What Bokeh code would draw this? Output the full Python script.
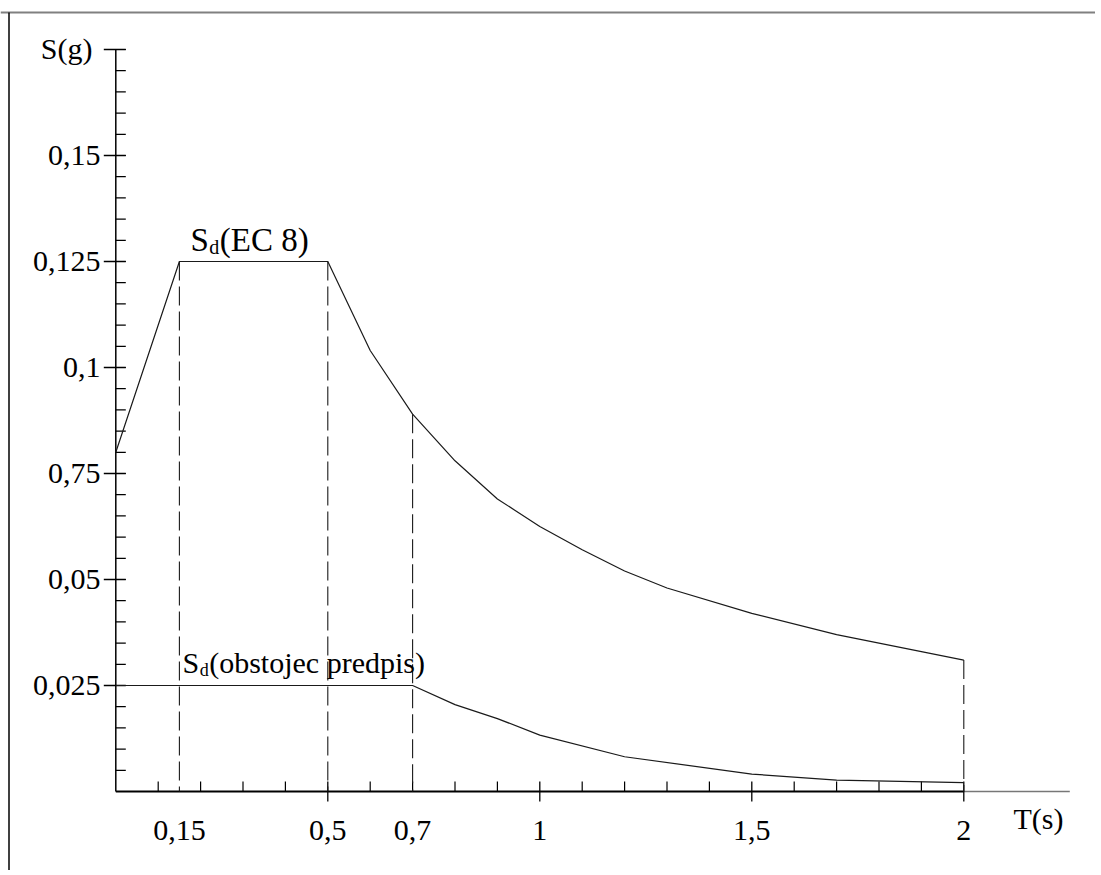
from bokeh.plotting import figure
from bokeh.models import Range1d, ColumnDataSource
from bokeh.core.properties import value
from bokeh.embed import file_html
from bokeh.resources import INLINE

# ---- data ----
t_ec8 = [0.0, 0.15, 0.5, 0.6, 0.7, 0.8, 0.9, 1.0, 1.1, 1.2, 1.3, 1.5, 1.7, 1.9, 2.0]
s_ec8 = [0.080, 0.125, 0.125, 0.104, 0.089, 0.078, 0.069, 0.0625, 0.057, 0.052,
         0.048, 0.042, 0.037, 0.033, 0.031]
t_old = [0.0, 0.7, 0.8, 0.9, 1.0, 1.2, 1.5, 1.7, 2.0]
s_old = [0.025, 0.025, 0.0205, 0.0172, 0.0133, 0.0082, 0.0041, 0.0027, 0.0021]
mark_t = [0.15, 0.5, 0.7, 2.0]
mark_s = [0.125, 0.125, 0.089, 0.031]

x_ticks = [0.15, 0.5, 0.7, 1.0, 1.5, 2.0]
x_tick_labels = ["0,15", "0,5", "0,7", "1", "1,5", "2"]
x_major = [0.5, 1.0, 1.5, 2.0]
x_minor = [0.1, 0.2, 0.3, 0.4, 0.6, 0.7, 0.8, 0.9, 1.1, 1.2, 1.3, 1.4, 1.6, 1.7, 1.8, 1.9]
x_end = 2.25
y_ticks = [0.025, 0.05, 0.075, 0.1, 0.125, 0.15, 0.175]
y_tick_labels = ["0,025", "0,05", "0,75", "0,1", "0,125", "0,15", ""]
y_minor = [round(0.005 * i, 3) for i in range(1, 36)]
y_end = 0.175
x_title = "T(s)"
y_title = "S(g)"

# ---- layout (pixel scale of the reference) ----
W, H = 1095, 870
X0, KX = 115.3, 424.0      # pixel of T=0, pixels per second
Y0, KY = 791.0, 4240.0     # pixel of S=0, pixels per g
FIX = 0.36                 # baseline correction (em) for the svg text placement

def px_x(px):
    return (px - X0) / KX

def px_y(py):
    return (Y0 - py) / KY

FONT = "Liberation Serif"
INK = "#1a1a1a"

p = figure(width=W, height=H, x_range=Range1d(px_x(0), px_x(W)),
           y_range=Range1d(px_y(H), px_y(0)),
           x_axis_type=None, y_axis_type=None,
           output_backend="svg", toolbar_location=None, min_border=0)
p.xgrid.visible = False
p.ygrid.visible = False
p.outline_line_color = None
p.background_fill_color = "white"
p.border_fill_color = "white"

# image border (top, left)
p.segment(x0=[px_x(0)], y0=[px_y(12)], x1=[px_x(W)], y1=[px_y(12)],
          line_color="#808080", line_width=2)
p.segment(x0=[px_x(8.5)], y0=[px_y(12)], x1=[px_x(8.5)], y1=[px_y(H)],
          line_color="black", line_width=1.5)

# ---- axes drawn through the data scales ----
p.segment(x0=[0], y0=[0], x1=[0], y1=[y_end], line_color="black", line_width=1.5)
p.segment(x0=[-12 / KX] * len(y_ticks), y0=y_ticks, x1=[10 / KX] * len(y_ticks), y1=y_ticks,
          line_color="black", line_width=1.3)
p.segment(x0=[0] * len(y_minor), y0=y_minor, x1=[10 / KX] * len(y_minor), y1=y_minor,
          line_color="black", line_width=1.2)
p.segment(x0=[0], y0=[0], x1=[x_major[-1]], y1=[0], line_color="black", line_width=2)
p.segment(x0=[x_major[-1]], y0=[0], x1=[x_end], y1=[0], line_color="#777777", line_width=1.3)
p.segment(x0=x_minor, y0=[0] * len(x_minor), x1=x_minor, y1=[10 / KY] * len(x_minor),
          line_color="black", line_width=1.2)
p.segment(x0=x_major, y0=[-10 / KY] * len(x_major), x1=x_major, y1=[10 / KY] * len(x_major),
          line_color="black", line_width=1.3)

def shift(size):
    return FIX * size / KY

# tick labels
ylab = ColumnDataSource(dict(x=[px_x(100)] * len(y_ticks),
                             y=[v - 11 / KY + shift(30) for v in y_ticks], text=y_tick_labels))
p.text(x="x", y="y", text="text", source=ylab, text_font=value(FONT),
       text_font_size=value("30px"), text_color="black",
       text_align="right", text_baseline="alphabetic")
xlab = ColumnDataSource(dict(x=x_ticks, y=[px_y(841) + shift(30)] * len(x_ticks),
                             text=x_tick_labels))
p.text(x="x", y="y", text="text", source=xlab, text_font=value(FONT),
       text_font_size=value("30px"), text_color="black",
       text_align="center", text_baseline="alphabetic")

def txt(x_px, base_px, s, size, align="left"):
    p.text(x=[px_x(x_px)], y=[px_y(base_px) + shift(size)], text=[s], text_font=value(FONT),
           text_font_size=value(f"{size}px"), text_color="black",
           text_align=align, text_baseline="alphabetic")

# axis titles
txt(92, 59, y_title, 30, "right")
txt(1063, 829, x_title, 30, "right")

# ---- dashed marker lines ----
p.segment(x0=mark_t, y0=mark_s, x1=mark_t, y1=[0] * len(mark_t),
          line_color=INK, line_width=1.1, line_dash="19 6")

# ---- spectra ----
p.line(t_ec8, s_ec8, line_color=INK, line_width=1.2)
p.line(t_old, s_old, line_color=INK, line_width=1.2)

# ---- curve labels (S with subscript d) ----
def sd_label(x_px, base_px, rest, size):
    sub = round(size * 0.6)
    s_w = 0.556 * size
    txt(x_px, base_px, "S", size)
    txt(x_px + s_w + 0.5, base_px + 2.5, "d", sub)
    txt(x_px + s_w + 0.5 * sub + 1, base_px, rest, size)

sd_label(190, 251, "(EC 8)", 33)
sd_label(182, 673, "(obstojec predpis)", 30)

open("out.html", "w").write(file_html(p, INLINE))
